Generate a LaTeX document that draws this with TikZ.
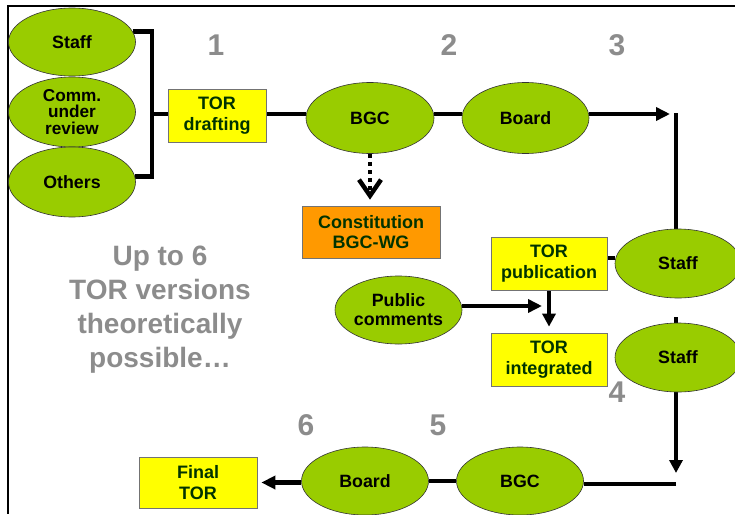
\documentclass[tikz,border=0pt]{standalone}
\usepackage{fontspec}
\setmainfont{Liberation Sans}
\usetikzlibrary{shapes.geometric,arrows.meta}
\pgfdeclarelayer{bg}
\pgfsetlayers{bg,main}
\definecolor{leaf}{HTML}{99CC00}
\definecolor{note}{HTML}{FFFF00}
\definecolor{amber}{HTML}{FF9900}
\definecolor{ink}{HTML}{003300}
\definecolor{numgray}{HTML}{8C8C8C}
\begin{document}
\begin{tikzpicture}[x=1pt,y=-1pt,
  actor/.style={ellipse, draw=black!80, line width=0.6pt, fill=leaf, inner sep=0pt,
    minimum width=127pt, minimum height=69pt, align=center, text=black,
    font=\fontsize{17.8}{16}\selectfont\bfseries},
  paper/.style={rectangle, draw=black!55, line width=0.7pt, fill=note, inner sep=0pt,
    minimum width=116pt, minimum height=53pt, align=center, text=ink,
    font=\fontsize{18}{20.5}\selectfont\bfseries},
  stepnum/.style={inner sep=0pt, text=numgray, font=\fontsize{30}{30}\selectfont\bfseries},
  conn/.style={line width=4.6pt},
  thin conn/.style={line width=4pt},
  flow/.style={line width=4.6pt, -{Triangle[length=14pt,width=13pt]}},
  thin flow/.style={line width=4pt, -{Triangle[length=13pt,width=13pt]}}]

\useasboundingbox (0,0) rectangle (735,514);

% frame edges
\draw[line width=2.2pt] (735,6) -- (8,6) -- (8,514);

% contributors
\node[actor, minimum height=68pt] (staffL) at (72,42) {Staff};
\node[actor, minimum height=70pt, font=\fontsize{17.2}{16.5}\selectfont\bfseries] (comm) at (72,112) {Comm.\\under\\review};
\node[actor, minimum height=70pt] (others) at (72,182) {Others};

% first row
\node[paper, minimum width=98pt] (draft) at (217,115.5) {TOR\\drafting};
\node[actor, minimum width=128pt, minimum height=71pt] (bgcA) at (370,118) {BGC};
\node[actor, minimum height=71pt] (boardA) at (525.5,118) {Board};
\node[paper, fill=amber, minimum width=138pt, minimum height=52pt] (wg) at (371,232) {Constitution\\BGC-WG};

% consultation
\node[actor, minimum width=126pt] (staffA) at (678,263.5) {Staff};
\node[paper] (pub) at (549,263.5) {TOR\\publication};
\node[actor, minimum height=68pt, font=\fontsize{17.8}{19}\selectfont\bfseries] (pubc) at (398.5,310) {Public\\comments};
\node[paper] (integ) at (549,359.5) {TOR\\integrated};
\node[actor, minimum width=126pt] (staffB) at (678,357.5) {Staff};

% last row
\node[actor, minimum height=68pt] (bgcB) at (520,481) {BGC};
\node[actor, minimum height=68pt] (boardB) at (365,481) {Board};
\node[paper, minimum width=118pt, minimum height=51pt] (final) at (198,482.5) {Final\\TOR};

% step numbers
\node[stepnum] (n1) at (216,45) {1};
\node[stepnum] (n2) at (449,45) {2};
\node[stepnum] (n3) at (617,45) {3};
\node[stepnum] (n4) at (617,392) {4};
\node[stepnum] (n5) at (438,425) {5};
\node[stepnum] (n6) at (306,425) {6};

\node[inner sep=0pt, align=center, text=numgray, font=\fontsize{28}{34}\selectfont\bfseries]
  (remark) at (160,310) {Up to 6\\TOR versions\\theoretically\\possible…};

% helper points
\coordinate (brx) at (152,114);
\coordinate (r1) at (0,114);
\coordinate (turn1) at (670,114);
\coordinate (top3) at (676,113);
\coordinate (pcend) at (542,306);
\coordinate (stub) at (676,317);
\coordinate (turn2) at (676,473);
\coordinate (corner) at (676,484);

\begin{pgfonlayer}{bg}
  % bracket joining the contributors
  \draw[conn, line join=miter] (staffL.10) -| (brx) |- (others.5);
  \draw[conn] (brx) -- (brx -| draft.west);
  % first row
  \draw[conn] (draft.east |- r1) -- (bgcA.west |- r1);
  \draw[conn] (bgcA.east |- r1) -- (boardA.west |- r1);
  \draw[flow] (boardA.east |- r1) -- (turn1);
  \draw[thin conn] (top3) -- (top3 |- staffA.north);
  % working group
  \draw[line width=3.8pt, dash pattern=on 3.8pt off 4.3pt,
        -{Straight Barb[length=16pt,width=22pt,line width=4.5pt]}]
        (bgcA.south) -- ([yshift=6pt]bgcA.south |- wg.north);
  % consultation
  \draw[conn] ([yshift=5.5pt]pub.east) -- ([yshift=5.5pt]pub.east -| staffA.west);
  \draw[flow] (pubc.east |- pcend) -- (pcend);
  \draw[thin flow] (pub.south) -- ([yshift=6pt]integ.north);
  \draw[thin conn] (stub) -- (stub |- staffB.north);
  \draw[thin flow] (staffB.south -| turn2) -- (turn2);
  % last row
  \draw[conn] (corner) -- (corner -| bgcB.east);
  \draw[conn] (bgcB.west) -- (boardB.east);
  \draw[flow] (boardB.west |- final.east) -- ([xshift=4pt]final.east);
\end{pgfonlayer}
\end{tikzpicture}
\end{document}
